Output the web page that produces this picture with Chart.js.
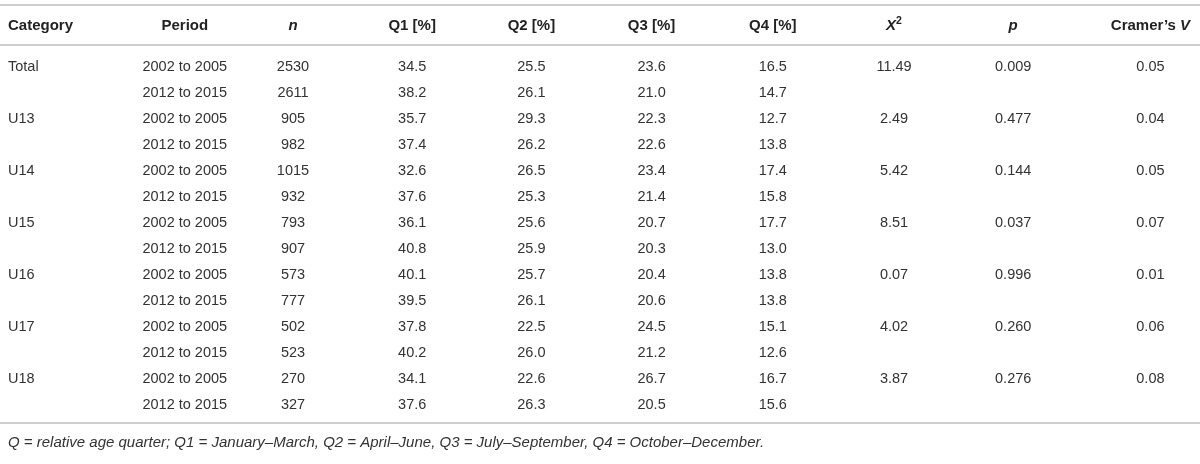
<!DOCTYPE html>
<html>
<head>
<meta charset="utf-8">
<script src="https://cdn.jsdelivr.net/npm/chart.js@4.4.1/dist/chart.umd.min.js"></script>
<style>
  body { margin: 0; background: #fff; }
  #wrap { width: 1200px; height: 464px; }
</style>
</head>
<body>
<div id="wrap"><canvas id="table"></canvas></div>
<script>
const columns = ['Category', 'Period', 'n', 'Q1 [%]', 'Q2 [%]', 'Q3 [%]', 'Q4 [%]', 'X2', 'p', "Cramer's V"];
const categories = ['Total', 'U13', 'U14', 'U15', 'U16', 'U17', 'U18'];
const periods = ['2002 to 2005', '2012 to 2015'];
const nValues = [2530, 2611, 905, 982, 1015, 932, 793, 907, 573, 777, 502, 523, 270, 327];
const q1 = [34.5, 38.2, 35.7, 37.4, 32.6, 37.6, 36.1, 40.8, 40.1, 39.5, 37.8, 40.2, 34.1, 37.6];
const q2 = [25.5, 26.1, 29.3, 26.2, 26.5, 25.3, 25.6, 25.9, 25.7, 26.1, 22.5, 26.0, 22.6, 26.3];
const q3 = [23.6, 21.0, 22.3, 22.6, 23.4, 21.4, 20.7, 20.3, 20.4, 20.6, 24.5, 21.2, 26.7, 20.5];
const q4 = [16.5, 14.7, 12.7, 13.8, 17.4, 15.8, 17.7, 13.0, 13.8, 13.8, 15.1, 12.6, 16.7, 15.6];
const chiSq = [11.49, 2.49, 5.42, 8.51, 0.07, 4.02, 3.87];
const pValues = [0.009, 0.477, 0.144, 0.037, 0.996, 0.260, 0.276];
const cramersV = [0.05, 0.04, 0.05, 0.07, 0.01, 0.06, 0.08];
const footnote = 'Q = relative age quarter; Q1 = January\u2013March, Q2 = April\u2013June, Q3 = July\u2013September, Q4 = October\u2013December.';

const FONT = '"Liberation Sans", Arial, Helvetica, sans-serif';
const LINE = '#cfcfcf';
const TEXT = '#333';

// header labels with their rich formatting
const headerParts = {
  'n': [['n', 'italic bold']],
  'X2': [['X', 'italic bold'], ['2', 'bold', true]],
  'p': [['p', 'italic bold']],
  "Cramer's V": [["Cramer\u2019s ", 'bold'], ['V', 'italic bold']]
};
// small horizontal shifts, columns of the original are not all the same width
const nudge = [0, 6, -5, -5, -5, -4, -2, 0, 0, 18];

// one dataset per column, one point per cell
function cells(col, values, fmt, perGroup) {
  return values.map((v, i) => ({ x: col, y: perGroup ? i * 2 : i, text: fmt(v) }));
}
const rows = categories.length * periods.length;
const datasets = [
  { data: cells('Category', categories, v => v, true), align: 'left' },
  { data: cells('Period', Array.from({ length: rows }, (_, i) => periods[i % 2]), v => v) },
  { data: cells('n', nValues, v => String(v)) },
  { data: cells('Q1 [%]', q1, v => v.toFixed(1)) },
  { data: cells('Q2 [%]', q2, v => v.toFixed(1)) },
  { data: cells('Q3 [%]', q3, v => v.toFixed(1)) },
  { data: cells('Q4 [%]', q4, v => v.toFixed(1)) },
  { data: cells('X2', chiSq, v => v.toFixed(2), true) },
  { data: cells('p', pValues, v => v.toFixed(3), true) },
  { data: cells("Cramer's V", cramersV, v => v.toFixed(2), true) }
].map(d => Object.assign({ pointRadius: 0, pointHoverRadius: 0 }, d));

const tablePlugin = {
  id: 'tableText',
  afterDatasetsDraw(chart) {
    const ctx = chart.ctx;
    const area = chart.chartArea;
    const xs = chart.scales.x;
    const half = (xs.getPixelForValue(1) - xs.getPixelForValue(0)) / 2;
    ctx.save();

    // rules
    ctx.strokeStyle = LINE;
    ctx.lineWidth = 2;
    [area.top - 40, area.top, area.bottom].forEach(y => {
      ctx.beginPath();
      ctx.moveTo(0, y);
      ctx.lineTo(chart.width, y);
      ctx.stroke();
    });

    // header
    ctx.textBaseline = 'middle';
    ctx.fillStyle = '#222';
    columns.forEach((label, i) => {
      const parts = headerParts[label] || [[label, 'bold']];
      const fontOf = p => p[2] ? 'bold 10.5px ' + FONT : p[1] + ' 15px ' + FONT;
      let w = 0;
      parts.forEach(p => { ctx.font = fontOf(p); w += ctx.measureText(p[0]).width; });
      let x = xs.getPixelForValue(i) - w / 2 + nudge[i];
      if (i === 0) x = xs.getPixelForValue(i) - half + 8;
      const y = area.top - 19;
      parts.forEach(p => {
        ctx.font = fontOf(p);
        ctx.textAlign = 'left';
        ctx.fillText(p[0], x, p[2] ? y - 5 : y);
        x += ctx.measureText(p[0]).width;
      });
    });

    // body cells
    ctx.fillStyle = TEXT;
    ctx.font = '14.5px ' + FONT;
    chart.data.datasets.forEach((ds, di) => {
      const meta = chart.getDatasetMeta(di);
      meta.data.forEach((el, j) => {
        const text = ds.data[j].text;
        if (ds.align === 'left') {
          ctx.textAlign = 'left';
          ctx.fillText(text, el.x - half + 8, el.y);
        } else {
          ctx.textAlign = 'center';
          ctx.fillText(text, el.x + nudge[di], el.y);
        }
      });
    });

    // footnote
    ctx.font = 'italic 15px ' + FONT;
    ctx.textAlign = 'left';
    ctx.fillText(footnote, 8, area.bottom + 20);
    ctx.restore();
  }
};

new Chart(document.getElementById('table').getContext('2d'), {
  type: 'scatter',
  data: { datasets: datasets },
  options: {
    responsive: true,
    maintainAspectRatio: false,
    animation: false,
    events: [],
    layout: { padding: { top: 45, bottom: 41, left: 0, right: 8 } },
    plugins: { legend: { display: false }, tooltip: { enabled: false } },
    scales: {
      x: { type: 'category', labels: columns, offset: true, display: false },
      y: { type: 'linear', reverse: true, min: -0.85, max: 13.7, display: false }
    }
  },
  plugins: [tablePlugin]
});
</script>
</body>
</html>
